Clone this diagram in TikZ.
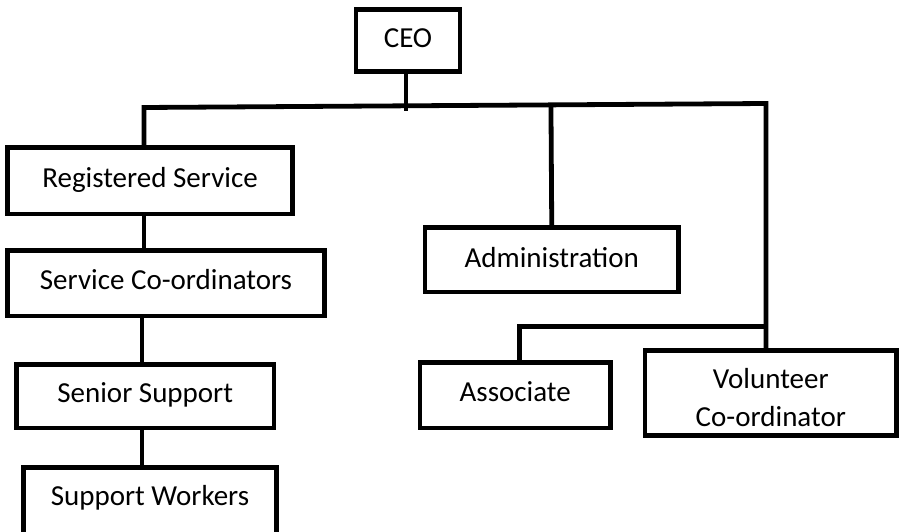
\documentclass[tikz,border=0pt]{standalone}
\usepackage{fontspec}
\setmainfont{Carlito}
\usetikzlibrary{calc}
\begin{document}
\begin{tikzpicture}[x=1pt,y=-1pt,
  orgbox/.style={draw=black, line width=4.8pt, fill=white, inner sep=0pt,
    text height=22pt, text depth=9pt, font=\fontsize{29}{38}\selectfont},
  link/.style={draw=black, line width=4.8pt}]
\useasboundingbox (0,0) rectangle (899,532);
\clip (0,0) rectangle (899,532);

% boxes
\node[orgbox, minimum width=104pt, minimum height=62pt, text height=24pt] (ceo) at (408,40.5) {CEO};
\node[orgbox, minimum width=285pt, minimum height=66.5pt] (rs) at (150,180.75) {Registered Service};
\node[orgbox, minimum width=317pt, minimum height=65.5pt] (sc) at (166,283.25) {Service Co-ordinators};
\node[orgbox, minimum width=257.5pt, minimum height=63.5pt] (ss) at (145.25,396.25) {Senior Support};
\node[orgbox, minimum width=253.4pt, minimum height=69pt, text depth=14pt, text height=21pt] (sw) at (150,502) {Support Workers};
\node[orgbox, minimum width=253.5pt, minimum height=64.5pt, text height=25pt] (adm) at (551.75,259.75) {Administration};
\node[orgbox, minimum width=190.5pt, minimum height=65.5pt] (asc) at (515.25,395.25) {Associate};
\node[orgbox, minimum width=251.7pt, minimum height=84.4pt, text height=, text depth=, align=center] (vc) at (770.85,393) {\rule{0pt}{30pt}Volunteer\\Co-ordinator};

% junction points
\coordinate (ceoj) at (406,111);
\coordinate (hl) at (144,107.5);
\coordinate (hr) at (766,103.5);
\coordinate (lx) at (142,0);
\coordinate (aj) at (519.5,326.5);

% connectors
\draw[link] (ceoj |- ceo.south) -- (ceoj);
\draw[link] (rs.north -| hl) -- (hl) -- (hr) -- (hr |- vc.north);
\draw[link] (adm.north) -- ($(hl)!(adm.north)!(hr)$);
\draw[link] (rs.south -| hl) -- (sc.north -| hl);
\draw[link] (sc.south -| lx) -- (ss.north -| lx);
\draw[link] (ss.south -| lx) -- (sw.north -| lx);
\draw[link] (aj |- asc.north) -- (aj) -- (aj -| hr);
\end{tikzpicture}
\end{document}
